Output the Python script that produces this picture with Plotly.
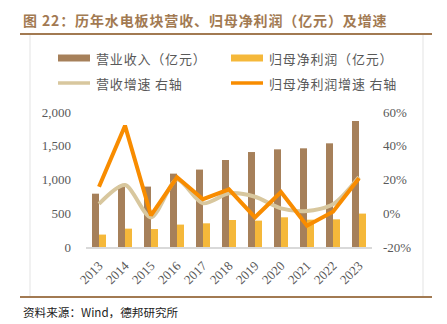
import plotly.graph_objects as go

years = ["2013", "2014", "2015", "2016", "2017", "2018", "2019", "2020", "2021", "2022", "2023"]
revenue = [790, 915, 895, 1087, 1147, 1289, 1407, 1447, 1462, 1536, 1867]
net_profit = [184, 272, 266, 332, 351, 400, 391, 440, 405, 410, 495]
revenue_growth = [0.055, 0.167, -0.025, 0.20, 0.059, 0.118, 0.098, 0.029, 0.013, 0.053, 0.215]
profit_growth = [0.157, 0.519, -0.013, 0.213, 0.083, 0.142, -0.024, 0.126, -0.074, 0.009, 0.207]

left_ticks = [0, 500, 1000, 1500, 2000]
right_ticks = [-0.2, 0, 0.2, 0.4, 0.6]

C_REV = "#A6805A"
C_NP = "#F5B83A"
C_RG = "#D8C79E"
C_PG = "#F88C00"
C_TITLE = "#A27A52"
GREY = "#595959"

W, H = 447, 324
L, R, T, B = 86, 372, 112, 247

def px(x):
    return (x - L) / (R - L)

def py(y):
    return (B - y) / (B - T)

def spaced(s):
    return "\u200a".join(s)

fig = go.Figure()
fig.add_trace(go.Bar(x=years, y=revenue, name="营业收入（亿元）", marker_color=C_REV,
                     marker_line_width=0))
fig.add_trace(go.Bar(x=years, y=net_profit, name="归母净利润（亿元）", marker_color=C_NP,
                     marker_line_width=0))
fig.add_trace(go.Scatter(x=years, y=revenue_growth, name="营收增速 右轴", yaxis="y2",
                         mode="lines", line=dict(color=C_RG, width=4, shape="spline", smoothing=0.8)))
fig.add_trace(go.Scatter(x=years, y=profit_growth, name="归母净利润增速 右轴", yaxis="y2",
                         mode="lines", line=dict(color=C_PG, width=4)))

num_font = dict(family="Liberation Serif", size=13, color=GREY)

fig.update_layout(
    width=W, height=H,
    margin=dict(l=L, r=W - R, t=T, b=H - B, pad=0),
    paper_bgcolor="white", plot_bgcolor="white",
    showlegend=False,
    barmode="group", bargap=0.46, bargroupgap=0,
    xaxis=dict(type="category", tickangle=-45, tickfont=num_font, showgrid=False,
               showline=True, linecolor="#D9D9D9", linewidth=2, ticks="",
               ticklabelstandoff=4),
    yaxis=dict(range=[0, 2000], tickvals=left_ticks, ticktext=[f"{v:,}" for v in left_ticks],
               tickfont=num_font, showgrid=False, zeroline=False, showline=False,
               ticklabelstandoff=14),
    yaxis2=dict(range=[-0.2, 0.6], overlaying="y", side="right", tickvals=right_ticks,
                ticktext=[f"{round(v*100)}%" for v in right_ticks], tickfont=num_font,
                showgrid=False, zeroline=False, showline=False, ticklabelstandoff=10),
)

shapes = []
shapes.append(dict(type="line", xref="paper", yref="paper", x0=px(20), x1=px(432), y0=py(34), y1=py(34),
                   line=dict(color=C_TITLE, width=2)))
shapes.append(dict(type="line", xref="paper", yref="paper", x0=px(20), x1=px(432), y0=py(297), y1=py(297),
                   line=dict(color=C_TITLE, width=2)))
for xv in (30, 423):
    shapes.append(dict(type="line", xref="paper", yref="paper", x0=px(xv), x1=px(xv), y0=py(35), y1=py(296),
                       line=dict(color="#E3E3E3", width=1)))
shapes.append(dict(type="rect", xref="paper", yref="paper", x0=px(58), x1=px(90), y0=py(54.5), y1=py(61.5),
                   fillcolor=C_REV, line_width=0))
shapes.append(dict(type="rect", xref="paper", yref="paper", x0=px(231), x1=px(263), y0=py(54.5), y1=py(61.5),
                   fillcolor=C_NP, line_width=0))
shapes.append(dict(type="line", xref="paper", yref="paper", x0=px(58), x1=px(90), y0=py(83), y1=py(83),
                   line=dict(color=C_RG, width=3.5)))
shapes.append(dict(type="line", xref="paper", yref="paper", x0=px(231), x1=px(263), y0=py(83), y1=py(83),
                   line=dict(color=C_PG, width=3.5)))
fig.update_layout(shapes=shapes)

leg_font = dict(family="Noto Sans CJK SC", size=13, color=GREY)
ann = [
    dict(text="<b>" + spaced("图 22：历年水电板块营收、归母净利润（亿元）及增速") + "</b>", x=px(21), y=py(20),
         font=dict(family="Noto Sans CJK SC", size=14, color=C_TITLE)),
    dict(text=spaced("营业收入（亿元）"), x=px(94), y=py(58), font=leg_font),
    dict(text=spaced("归母净利润（亿元）"), x=px(267), y=py(58), font=leg_font),
    dict(text=spaced("营收增速 右轴"), x=px(94), y=py(83), font=leg_font),
    dict(text=spaced("归母净利润增速 右轴"), x=px(267), y=py(83), font=leg_font),
    dict(text="资料来源：Wind，德邦研究所", x=px(21), y=py(312),
         font=dict(family="Noto Sans CJK SC", size=11.6, color="#222222")),
]
for a in ann:
    a.update(xref="paper", yref="paper", xanchor="left", yanchor="middle", showarrow=False)
fig.update_layout(annotations=ann)

fig.write_html("out.html")
